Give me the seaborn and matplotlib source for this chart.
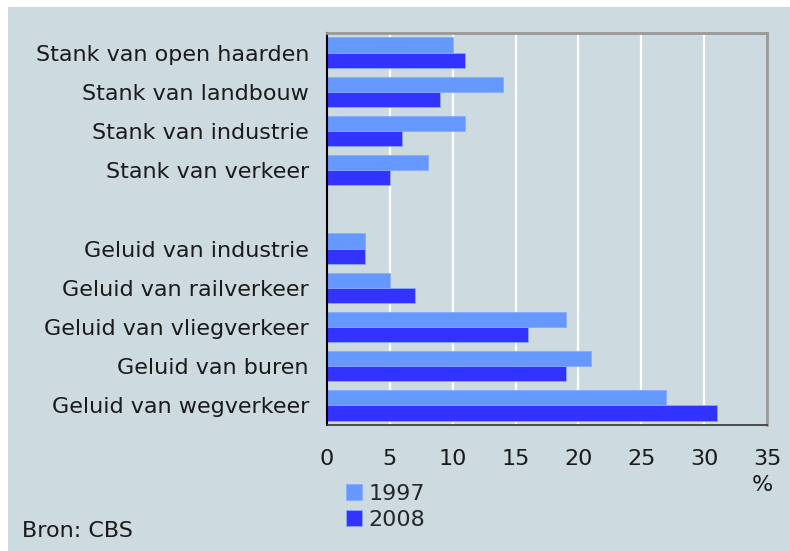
import matplotlib
matplotlib.use("Agg")
import matplotlib.pyplot as plt
import seaborn as sns
import pandas as pd
import numpy as np
from matplotlib.patches import Rectangle

categories = ["Stank van open haarden", "Stank van landbouw", "Stank van industrie",
              "Stank van verkeer", "Geluid van industrie", "Geluid van railverkeer",
              "Geluid van vliegverkeer", "Geluid van buren", "Geluid van wegverkeer"]
order = categories[:4] + [" "] + categories[4:]
values_1997 = [10, 14, 11, 8, 3, 5, 19, 21, 27]
values_2008 = [11, 9, 6, 5, 3, 7, 16, 19, 31]
years = ["1997", "2008"]
xticks = [0, 5, 10, 15, 20, 25, 30, 35]

df = pd.DataFrame({
    "cat": categories * 2,
    "jaar": ["1997"] * len(categories) + ["2008"] * len(categories),
    "val": values_1997 + values_2008,
})

sns.set_theme(style="white")
plt.rcParams['font.family'] = ['DejaVu Sans']
FS = 16
TXT = "#1a1a1a"
BG = "#CDDBE1"
fig = plt.figure(figsize=(7.9, 5.51), dpi=100, facecolor="white")
fig.patches.append(Rectangle((8/790, 0), 1 - 8/790, 1 - 7/551, transform=fig.transFigure,
                             facecolor=BG, edgecolor="none", zorder=-10))
ax = fig.add_axes([327/790, 1 - 425/551, 440/790, 392/551])
ax.set_facecolor(BG)

palette = {"1997": "#6699FF", "2008": "#3333FF"}
sns.barplot(data=df, y="cat", x="val", hue="jaar", order=order, hue_order=years,
            palette=palette, width=0.78, saturation=1, ax=ax, orient="h",
            edgecolor="#88AAFF", linewidth=0.6, legend=True)

ax.set_xlim(0, 35)
ax.set_ylim(len(order) - 0.5, -0.5)
ax.set_xticks(xticks)
ax.set_xticklabels([str(t) for t in xticks])
ax.set_xlabel("")
ax.set_ylabel("")
for t in xticks[1:-1]:
    ax.axvline(t, color="white", lw=1.6, zorder=0.5)
ax.set_axisbelow(True)

for s in ["top", "right"]:
    ax.spines[s].set_color("#999999")
    ax.spines[s].set_linewidth(2)
ax.spines["left"].set_color("black")
ax.spines["left"].set_linewidth(1.5)
ax.spines["bottom"].set_color("#333333")
ax.spines["bottom"].set_linewidth(1.2)
ax.tick_params(axis="x", direction="out", length=6, width=1.2, color="#333333",
               labelsize=FS, pad=11, labelcolor=TXT)
ax.tick_params(axis="y", length=0, labelsize=FS, pad=13, labelcolor=TXT)

handles, labels = ax.get_legend_handles_labels()
ax.get_legend().remove()
fig.legend(handles, labels, loc="upper left", bbox_to_anchor=(346/790, 1 - 484/551),
           frameon=False, fontsize=FS, handlelength=0.7, handleheight=0.7,
           handletextpad=0.3, labelspacing=0.25, borderaxespad=0, borderpad=0)

fig.text(762/790, 1 - 485/551, "%", ha="center", va="center", fontsize=FS, color=TXT)
fig.text(22/790, 1 - 531/551, "Bron: CBS", ha="left", va="center", fontsize=FS, color=TXT)

fig.savefig("out.png", dpi=100, facecolor="white")
